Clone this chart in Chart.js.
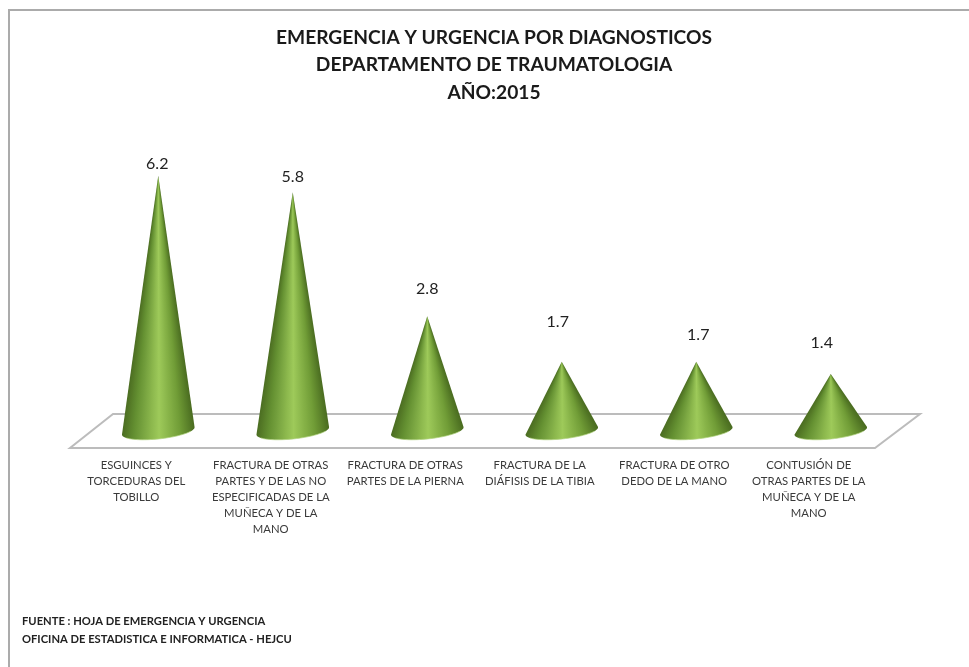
<!DOCTYPE html>
<html>
<head>
<meta charset="utf-8">
<style>
  html, body { margin: 0; background: #fff; overflow: hidden; }
  #frame { position: absolute; left: 8px; top: 9px; width: 980px; height: 680px; border: 2px solid #ababab; }
  #chart { position: absolute; left: 0; top: 0; filter: blur(0.6px); }
</style>
</head>
<body>
<div id="frame"></div>
<canvas id="chart" width="969" height="667"></canvas>
<script src="https://cdn.jsdelivr.net/npm/chart.js@4"></script>
<script>
const titleLines = ['EMERGENCIA Y URGENCIA POR DIAGNOSTICOS', 'DEPARTAMENTO DE TRAUMATOLOGIA', 'AÑO:2015'];
const sourceLines = ['FUENTE : HOJA DE EMERGENCIA Y URGENCIA', 'OFICINA DE ESTADISTICA E INFORMATICA - HEJCU'];
const categories = [
  ['ESGUINCES Y', 'TORCEDURAS DEL', 'TOBILLO'],
  ['FRACTURA DE OTRAS', 'PARTES Y DE LAS NO', 'ESPECIFICADAS DE LA', 'MUÑECA Y DE LA', 'MANO'],
  ['FRACTURA DE OTRAS', 'PARTES DE LA PIERNA'],
  ['FRACTURA DE LA', 'DIÁFISIS DE LA TIBIA'],
  ['FRACTURA DE OTRO', 'DEDO DE LA MANO'],
  ['CONTUSIÓN DE', 'OTRAS PARTES DE LA', 'MUÑECA Y DE LA', 'MANO']
];
const values = [6.2, 5.8, 2.8, 1.7, 1.7, 1.4];

// hand placed labels in the original, so each one has its own nudge
const labelLift = [12, 15, 27, 40, 27, 31];
const labelShift = [-1, 0, 0, -4, 2, -9];

const shadeStops = [[0, [76, 110, 34]], [0.14, [98, 142, 48]], [0.5, [158, 202, 90]], [0.8, [112, 156, 54]], [1, [74, 108, 32]]];

function shade(t) {
  for (let i = 1; i < shadeStops.length; i++) {
    if (t <= shadeStops[i][0]) {
      const [a, ca] = shadeStops[i - 1], [b, cb] = shadeStops[i];
      const k = (t - a) / (b - a);
      return `rgb(${ca.map((c, n) => Math.round(c + (cb[n] - c) * k)).join(',')})`;
    }
  }
  return 'rgb(74,108,32)';
}

function drawCone(ctx, el) {
  const a = el.width / 2, b = 8, tilt = -6 * Math.PI / 180;
  const cx = el.x, cy = el.base - 1;
  const rim = th => [
    cx + a * Math.cos(th) * Math.cos(tilt) - b * Math.sin(th) * Math.sin(tilt),
    cy + a * Math.cos(th) * Math.sin(tilt) + b * Math.sin(th) * Math.cos(tilt)
  ];
  const steps = 40;
  const angleTo = p => Math.atan2(p[1] - el.y, p[0] - el.x);
  const start = angleTo(rim(0)) - 0.05;
  // conic gradient around the tip gives the shading the right taper
  const grad = ctx.createConicGradient(start, el.x, el.y);
  for (let i = 0; i <= steps; i++) {
    const th = Math.PI * i / steps;
    grad.addColorStop(Math.min(1, (angleTo(rim(th)) - start) / (2 * Math.PI)), shade((Math.cos(th) + 1) / 2));
  }
  ctx.beginPath();
  ctx.moveTo(el.x, el.y);
  for (let i = 0; i <= steps; i++) {
    const p = rim(Math.PI * i / steps);
    ctx.lineTo(p[0], p[1]);
  }
  ctx.closePath();
  ctx.fillStyle = grad;
  ctx.fill();
  // pale rim along the front of the base
  ctx.beginPath();
  for (let i = 6; i <= steps - 6; i++) {
    const p = rim(Math.PI * i / steps);
    if (i === 6) ctx.moveTo(p[0], p[1]); else ctx.lineTo(p[0], p[1]);
  }
  ctx.strokeStyle = 'rgba(175,210,125,0.7)';
  ctx.lineWidth = 1;
  ctx.stroke();
}

const coneScene = {
  id: 'coneScene',
  beforeDatasetsDraw(chart) {
    const { ctx, chartArea: area, scales } = chart;
    const base = scales.y.getPixelForValue(0);
    ctx.save();
    ctx.beginPath();
    ctx.moveTo(area.left - 21, base + 16);
    ctx.lineTo(area.right - 23, base + 16);
    ctx.lineTo(area.right + 22, base - 18);
    ctx.lineTo(area.left + 22, base - 18);
    ctx.closePath();
    ctx.fillStyle = '#fff';
    ctx.fill();
    ctx.strokeStyle = '#bcbcbc';
    ctx.lineWidth = 2;
    ctx.stroke();
    ctx.restore();
  },
  afterDatasetsDraw(chart) {
    const { ctx } = chart;
    ctx.save();
    chart.getDatasetMeta(0).data.forEach((el, i) => {
      drawCone(ctx, el);
      ctx.fillStyle = '#222';
      ctx.font = '16px Lato';
      ctx.textAlign = 'center';
      ctx.textBaseline = 'middle';
      ctx.fillText(values[i].toFixed(1), el.x + labelShift[i], el.y - labelLift[i]);
    });
    ctx.restore();
  }
};

const hiddenAxis = (position, width) => ({
  position,
  display: true,
  min: 0,
  max: 7.88,
  grid: { display: false },
  border: { display: false },
  ticks: { display: false },
  afterFit(scale) { scale.width = width; }
});

new Chart(document.getElementById('chart'), {
  type: 'bar',
  data: {
    labels: categories,
    datasets: [{ data: values, yAxisID: 'y', barThickness: 73, backgroundColor: 'rgba(0,0,0,0)' }]
  },
  options: {
    responsive: false,
    animation: false,
    layout: { padding: { left: 22, right: 3, top: 0, bottom: 0 } },
    scales: {
      x: {
        grid: { display: false },
        border: { display: false },
        ticks: {
          autoSkip: false,
          maxRotation: 0,
          labelOffset: -22,
          padding: 17,
          color: '#3a3a3a',
          font: { family: 'Lato', size: 11.3, lineHeight: 1.42 }
        }
      },
      y: hiddenAxis('left', 69),
      y2: hiddenAxis('right', 68)
    },
    plugins: {
      legend: { display: false },
      tooltip: { enabled: false },
      title: {
        display: true,
        text: titleLines,
        color: '#1a1a1a',
        font: { family: 'Lato', size: 19.2, weight: 'bold', lineHeight: 1.43 },
        padding: { top: 24, bottom: 0 }
      },
      subtitle: {
        display: true,
        position: 'bottom',
        align: 'start',
        text: sourceLines,
        color: '#222',
        font: { family: 'Lato', size: 11.2, weight: 'bold', lineHeight: 1.6 },
        padding: { top: 58, bottom: 19 }
      }
    }
  },
  plugins: [coneScene]
});
</script>
</body>
</html>
